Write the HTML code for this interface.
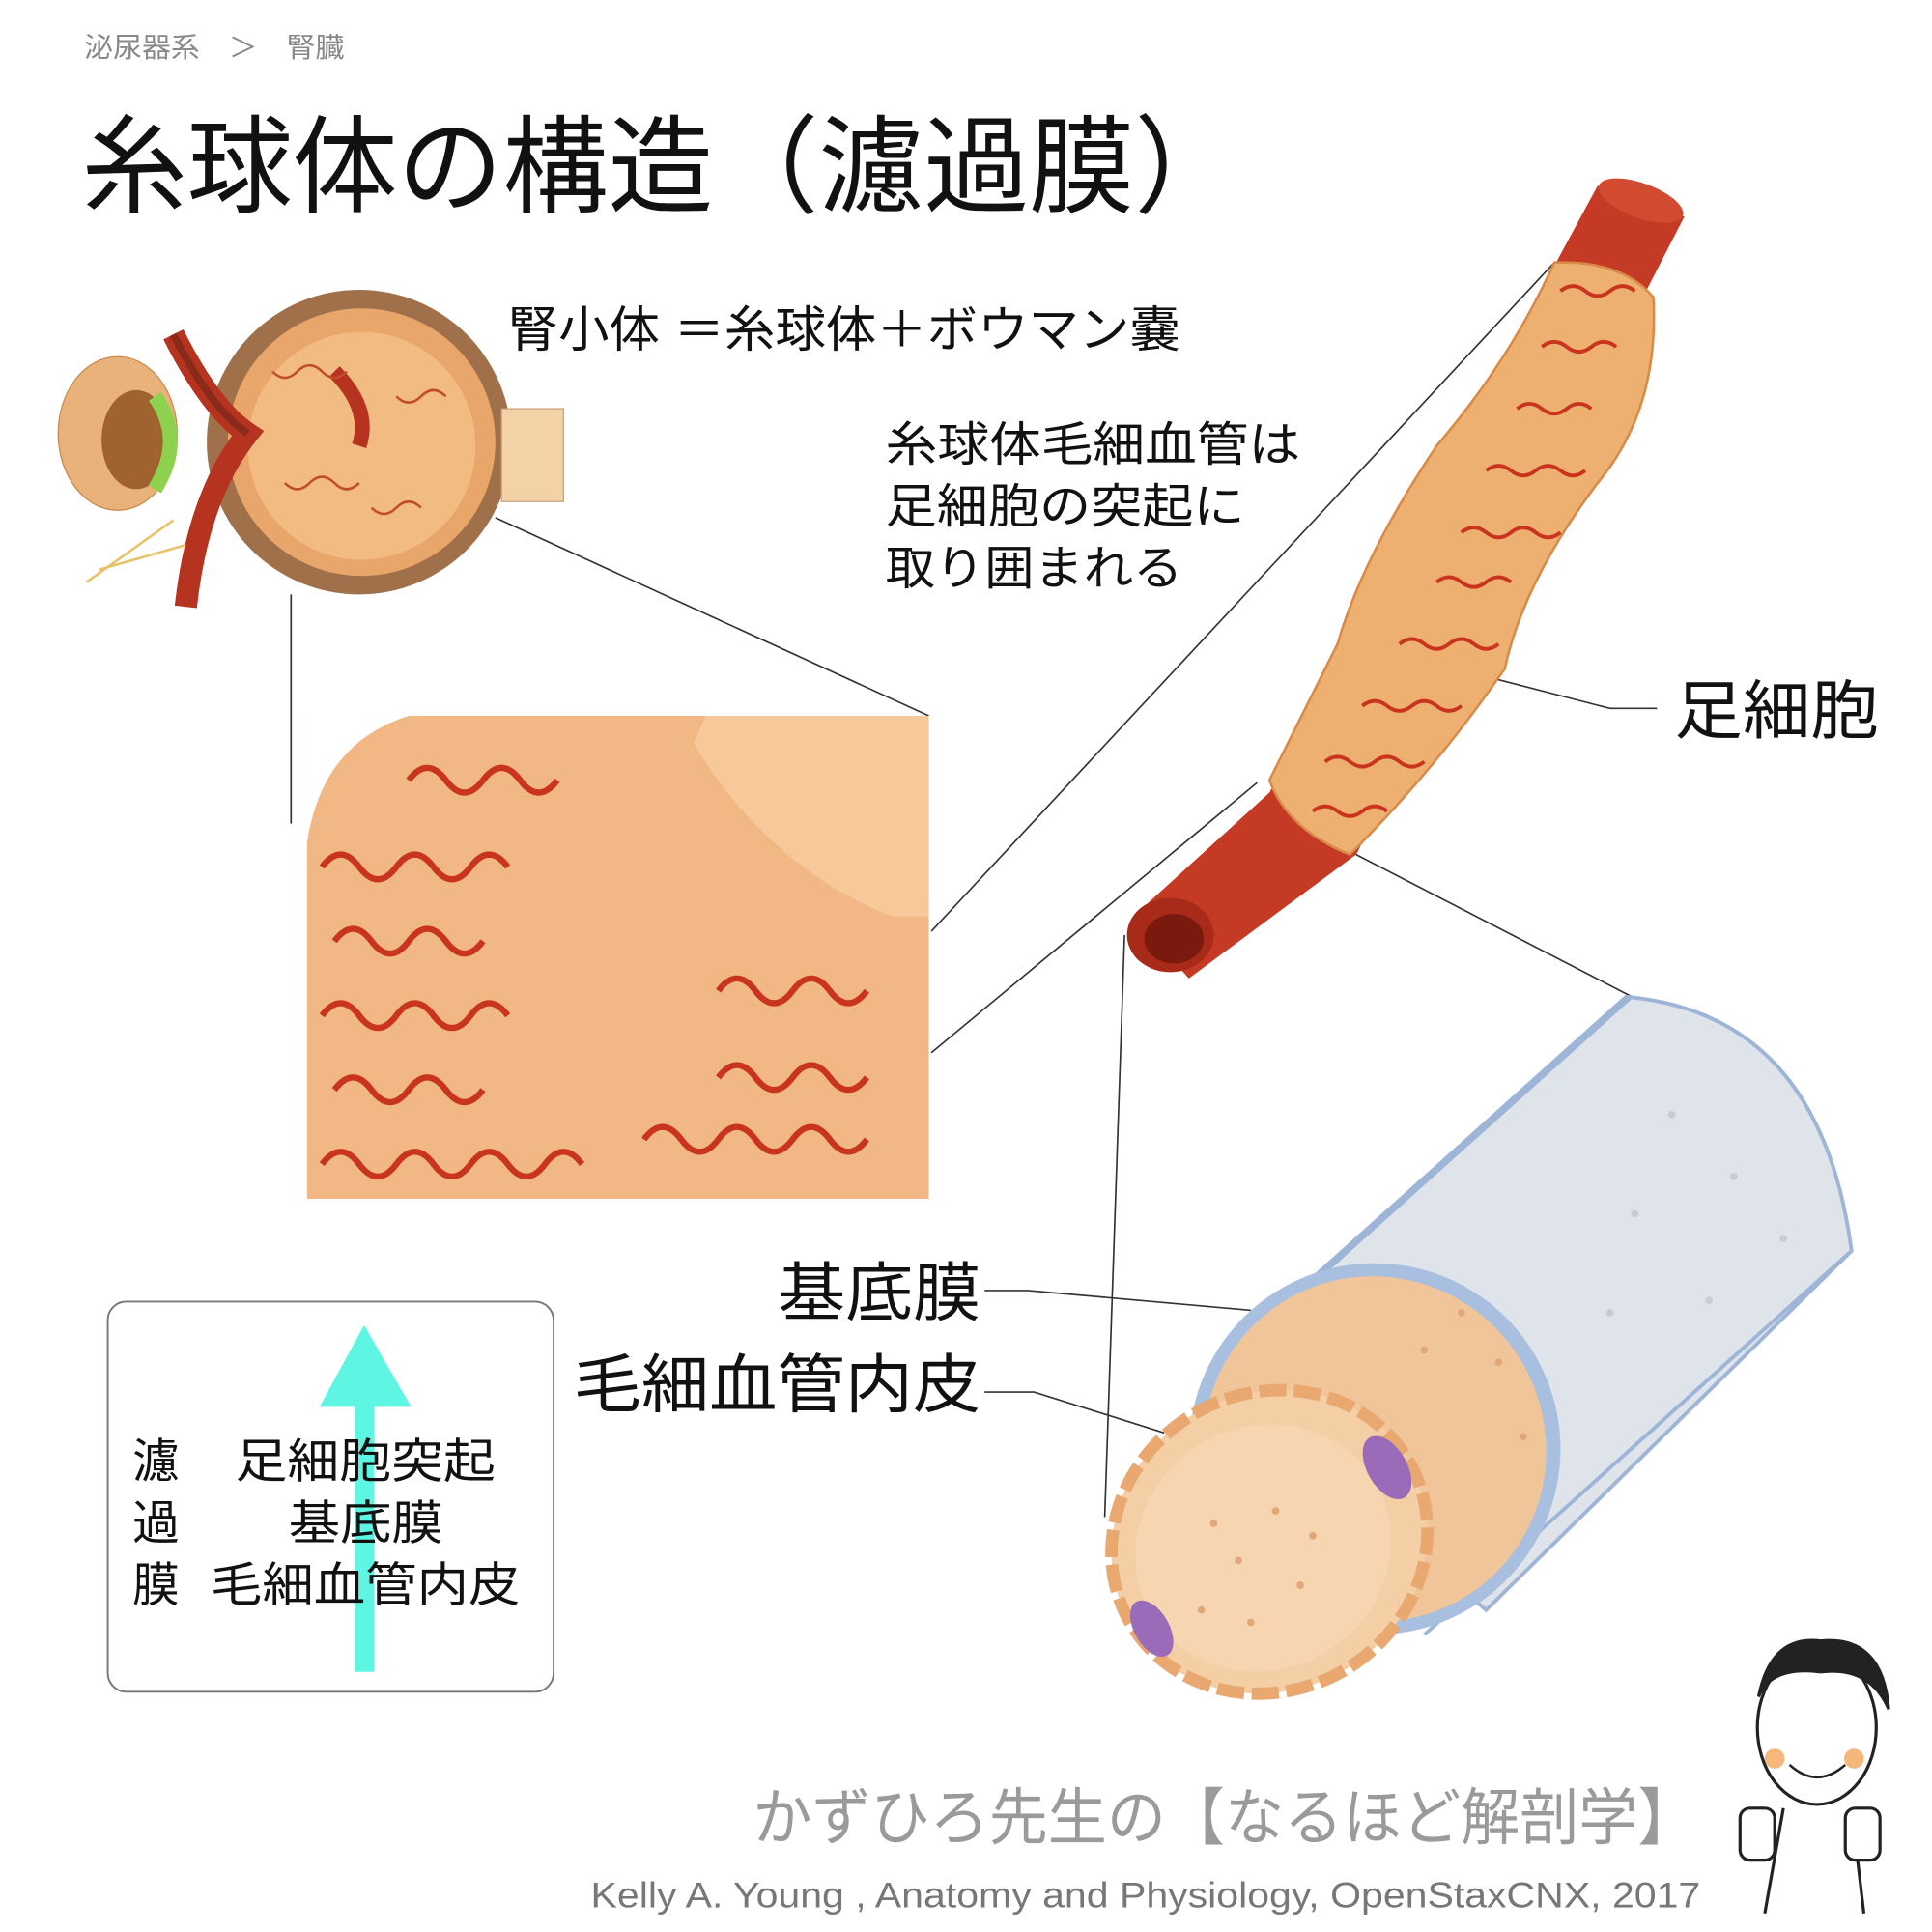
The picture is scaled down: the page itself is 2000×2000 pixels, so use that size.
<!DOCTYPE html>
<html><head><meta charset="utf-8">
<style>
html,body{margin:0;padding:0;background:#fff;}
svg{display:block;}
text{font-family:"Liberation Sans","Noto Sans CJK JP",sans-serif;}
</style></head>
<body>
<svg width="2000" height="2000" viewBox="0 0 1560 1560" xmlns="http://www.w3.org/2000/svg">
<rect width="1560" height="1560" fill="#fff"/>
<!-- header -->
<text x="68" y="46" font-size="22" fill="#888" textLength="210" lengthAdjust="spacingAndGlyphs">泌尿器系　＞　腎臓</text>
<text x="66" y="165" font-size="86" fill="#111" textLength="935" lengthAdjust="spacingAndGlyphs">糸球体の構造（濾過膜）</text>
<text x="410" y="280" font-size="40" fill="#111" textLength="543" lengthAdjust="spacingAndGlyphs">腎小体 ＝糸球体＋ボウマン嚢</text>
<text font-size="38" fill="#111">
<tspan x="715" y="372" textLength="335" lengthAdjust="spacingAndGlyphs">糸球体毛細血管は</tspan>
<tspan x="715" y="422" textLength="290" lengthAdjust="spacingAndGlyphs">足細胞の突起に</tspan>
<tspan x="715" y="472" textLength="240" lengthAdjust="spacingAndGlyphs">取り囲まれる</tspan></text>
<text x="1352" y="592" font-size="52" fill="#111" textLength="165" lengthAdjust="spacingAndGlyphs">足細胞</text>
<text x="628" y="1062" font-size="52" fill="#111" textLength="164" lengthAdjust="spacingAndGlyphs">基底膜</text>
<text x="463" y="1136" font-size="52" fill="#111" textLength="329" lengthAdjust="spacingAndGlyphs">毛細血管内皮</text>

<!-- connector lines -->
<g stroke="#333" stroke-width="1.3" fill="none">
<line x1="235" y1="480" x2="235" y2="665"/>
<line x1="400" y1="418" x2="750" y2="578"/>
<line x1="1255" y1="212" x2="752" y2="752"/>
<line x1="1015" y1="632" x2="752" y2="850"/>
<line x1="1095" y1="690" x2="1318" y2="805"/>
<line x1="908" y1="755" x2="892" y2="1225"/>
<polyline points="1195,545 1300,572 1338,572"/>
<polyline points="795,1042 830,1042 1010,1058"/>
<polyline points="795,1124 835,1124 940,1157"/>
</g>

<!-- renal corpuscle -->
<g>
<ellipse cx="95" cy="350" rx="48" ry="62" fill="#e9b27a" stroke="#c98a4e"/>
<ellipse cx="110" cy="355" rx="28" ry="40" fill="#a0622e"/>
<path d="M125 320 Q150 355 125 395" stroke="#8dd14e" stroke-width="12" fill="none"/>
<circle cx="290" cy="357" r="123" fill="#a0704a"/>
<circle cx="292" cy="357" r="108" fill="#e8a66a"/>
<circle cx="292" cy="360" r="92" fill="#f1bb82"/>
<path d="M140 270 Q170 330 200 350 Q160 400 150 490" stroke="#b5331f" stroke-width="18" fill="none"/>
<path d="M140 270 Q170 330 200 350" stroke="#8a2a1a" stroke-width="6" fill="none"/>
<path d="M270 300 Q300 330 290 360" stroke="#b5331f" stroke-width="12" fill="none"/>
<rect x="405" y="330" width="50" height="75" fill="#f4d2a8" stroke="#c9a07a"/>
<path d="M70 470 L140 420 M80 460 L150 440" stroke="#e9c36a" stroke-width="2"/>
<g stroke="#c24c2a" stroke-width="2" fill="none">
<path d="M220 300 q10 10 20 0 q10-10 20 0 q10 10 20 0"/>
<path d="M230 390 q10 10 20 0 q10-10 20 0 q10 10 20 0"/>
<path d="M300 410 q10 10 20 0 q10-10 20 0"/>
<path d="M320 320 q10 10 20 0 q10-10 20 0"/>
</g>
</g>

<!-- zoom panel -->
<rect x="248" y="578" width="502" height="390" fill="#f1b784"/>
<path d="M248 680 Q260 600 330 578 L248 578Z" fill="#fff"/>
<g fill="none" stroke="#c9341f" stroke-width="5">
<path d="M260 700 q15-20 30 0 q15 20 30 0 q15-20 30 0 q15 20 30 0 q15-20 30 0"/>
<path d="M270 760 q15-20 30 0 q15 20 30 0 q15-20 30 0 q15 20 30 0"/>
<path d="M260 820 q15-20 30 0 q15 20 30 0 q15-20 30 0 q15 20 30 0 q15-20 30 0"/>
<path d="M270 880 q15-20 30 0 q15 20 30 0 q15-20 30 0 q15 20 30 0"/>
<path d="M260 940 q15-20 30 0 q15 20 30 0 q15-20 30 0 q15 20 30 0 q15-20 30 0 q15 20 30 0 q15-20 30 0"/>
<path d="M330 630 q15-20 30 0 q15 20 30 0 q15-20 30 0 q15 20 30 0"/>
<path d="M580 800 q15-20 30 0 q15 20 30 0 q15-20 30 0 q15 20 30 0"/>
<path d="M580 870 q15-20 30 0 q15 20 30 0 q15-20 30 0 q15 20 30 0"/>
<path d="M520 920 q15-20 30 0 q15 20 30 0 q15-20 30 0 q15 20 30 0 q15-20 30 0 q15 20 30 0"/>
</g>
<path d="M560 600 Q620 700 720 740 L750 740 L750 578 L570 578Z" fill="#f6c89a"/>

<!-- capillary with podocyte -->
<path d="M1290 150 L1360 175 L1095 690 L960 790 L915 740 L1025 640Z" fill="#c43a24"/>
<ellipse cx="945" cy="755" rx="35" ry="30" fill="#a82a18"/>
<ellipse cx="948" cy="758" rx="24" ry="20" fill="#7a1a0e"/>
<ellipse cx="1325" cy="162" rx="36" ry="14" fill="#d24a30" transform="rotate(20 1325 162)"/>
<path d="M1255 212 Q1310 210 1335 240 Q1340 330 1290 390 Q1230 470 1215 540 Q1160 620 1090 690 Q1040 670 1025 630 Q1060 560 1080 520 Q1100 450 1160 360 Q1220 290 1255 212Z" fill="#eeb070" stroke="#d88b48" stroke-width="2"/>
<g fill="none" stroke="#c9341f" stroke-width="3">
<path d="M1260 235 q10-8 20 0 q10 8 20 0 q10-8 20 0"/>
<path d="M1245 280 q10-8 20 0 q10 8 20 0 q10-8 20 0"/>
<path d="M1225 330 q10-8 20 0 q10 8 20 0 q10-8 20 0"/>
<path d="M1200 380 q10-8 20 0 q10 8 20 0 q10-8 20 0 q10 8 20 0"/>
<path d="M1180 430 q10-8 20 0 q10 8 20 0 q10-8 20 0 q10 8 20 0"/>
<path d="M1160 470 q10-8 20 0 q10 8 20 0 q10-8 20 0"/>
<path d="M1130 520 q10-8 20 0 q10 8 20 0 q10-8 20 0 q10 8 20 0"/>
<path d="M1100 570 q10-8 20 0 q10 8 20 0 q10-8 20 0 q10 8 20 0"/>
<path d="M1070 615 q10-8 20 0 q10 8 20 0 q10-8 20 0 q10 8 20 0"/>
<path d="M1060 655 q10-8 20 0 q10 8 20 0 q10-8 20 0"/>
</g>

<!-- big cylinder -->
<path d="M1315 805 Q1470 820 1495 1010 L1200 1300 L975 1110 Z" fill="#dfe3ea" stroke="#9eb5d8" stroke-width="3"/>
<path d="M1315 805 L975 1110" stroke="#9eb5d8" stroke-width="6"/>
<path d="M1495 1010 L1150 1320" stroke="#9eb5d8" stroke-width="3"/>
<ellipse cx="1110" cy="1170" rx="150" ry="150" fill="#a9bfe0" transform="rotate(-30 1110 1170)"/>
<ellipse cx="1110" cy="1170" rx="138" ry="140" fill="#f1c59a" transform="rotate(-30 1110 1170)"/>
<ellipse cx="1025" cy="1245" rx="130" ry="120" fill="#f4cfa6" stroke="#e8a870" stroke-width="10" stroke-dasharray="22 6" transform="rotate(-30 1025 1245)"/>
<ellipse cx="1020" cy="1250" rx="105" ry="98" fill="#f6d5b0" transform="rotate(-30 1020 1250)"/>
<ellipse cx="1120" cy="1185" rx="16" ry="28" fill="#9a6bb8" transform="rotate(-30 1120 1185)"/>
<ellipse cx="930" cy="1315" rx="14" ry="25" fill="#9a6bb8" transform="rotate(-30 930 1315)"/>
<g fill="#e0a878">
<circle cx="980" cy="1230" r="3"/><circle cx="1000" cy="1260" r="3"/><circle cx="1030" cy="1220" r="3"/><circle cx="1050" cy="1280" r="3"/><circle cx="970" cy="1300" r="3"/><circle cx="1010" cy="1310" r="3"/><circle cx="1060" cy="1240" r="3"/>
<circle cx="1180" cy="1060" r="3"/><circle cx="1210" cy="1100" r="3"/><circle cx="1150" cy="1090" r="3"/><circle cx="1230" cy="1160" r="3"/>
</g>
<g fill="#c8ccd4">
<circle cx="1350" cy="900" r="3"/><circle cx="1400" cy="950" r="3"/><circle cx="1320" cy="980" r="3"/><circle cx="1440" cy="1000" r="3"/><circle cx="1300" cy="1060" r="3"/><circle cx="1380" cy="1050" r="3"/>
</g>

<!-- filtration box -->
<rect x="87" y="1051" width="360" height="315" rx="15" fill="#fff" stroke="#777" stroke-width="1.5"/>
<rect x="287" y="1130" width="15" height="220" fill="#5ff5e3"/>
<polygon points="294,1070 258,1136 332,1136" fill="#5ff5e3"/>
<g font-size="38" fill="#111">
<text x="107" y="1193">濾</text><text x="107" y="1243">過</text><text x="107" y="1293">膜</text>
<text x="190" y="1193" textLength="210" lengthAdjust="spacingAndGlyphs">足細胞突起</text>
<text x="233" y="1243" textLength="125" lengthAdjust="spacingAndGlyphs">基底膜</text>
<text x="170" y="1293" textLength="250" lengthAdjust="spacingAndGlyphs">毛細血管内皮</text>
</g>

<!-- footer -->
<text x="608" y="1485" font-size="50" fill="#9a9a9a" textLength="762" lengthAdjust="spacingAndGlyphs">かずひろ先生の【なるほど解剖学】</text>
<text x="477" y="1540" font-size="29" fill="#777" textLength="896" lengthAdjust="spacingAndGlyphs">Kelly A. Young , Anatomy and Physiology, OpenStaxCNX, 2017</text>

<!-- cartoon -->
<g stroke="#222" stroke-width="2.5" fill="#fff">
<ellipse cx="1467" cy="1395" rx="48" ry="62"/>
<path d="M1420 1370 Q1430 1320 1470 1325 Q1520 1320 1525 1380 Q1510 1345 1470 1350 Q1430 1345 1420 1370Z" fill="#222"/>
<path d="M1440 1460 L1425 1545 M1495 1460 L1505 1545" fill="none"/>
<rect x="1405" y="1460" width="28" height="42" rx="8"/>
<rect x="1490" y="1460" width="28" height="42" rx="8"/>
</g>
<circle cx="1433" cy="1420" r="8" fill="#f5b77a"/><circle cx="1497" cy="1420" r="8" fill="#f5b77a"/>
<path d="M1445 1425 Q1467 1445 1490 1425" stroke="#222" stroke-width="2" fill="none"/>
</svg>
</body></html>
